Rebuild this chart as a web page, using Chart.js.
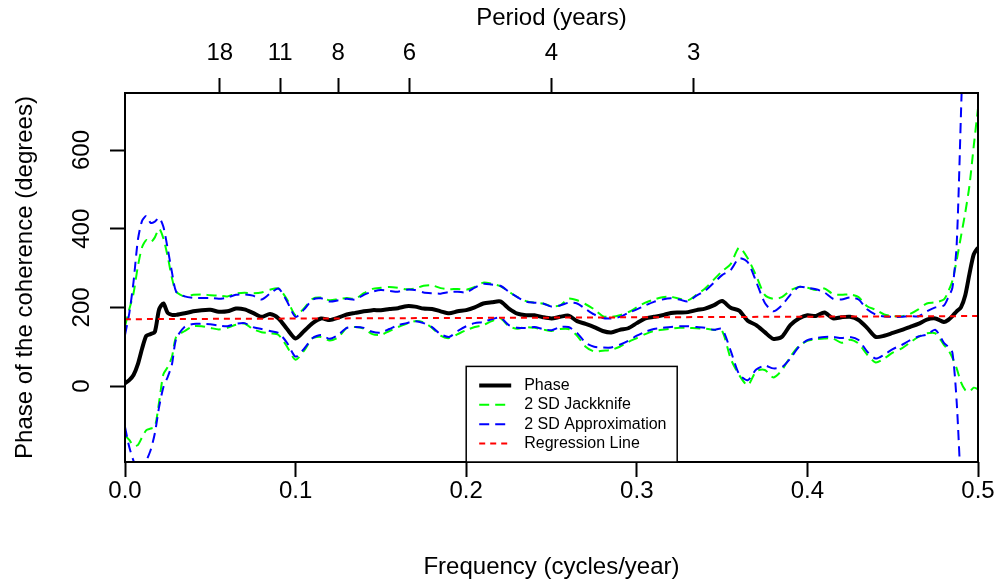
<!doctype html>
<html>
<head>
<meta charset="utf-8">
<title>Phase of the coherence</title>
<script src="https://cdn.jsdelivr.net/npm/chart.js@4.4.1/dist/chart.umd.min.js"></script>
<style>
  html, body { margin: 0; padding: 0; background: #fff; }
</style>
</head>
<body>
<canvas id="phase" width="998" height="583"></canvas>
<script>
// frequency grid (cycles/year), finer at both ends where the curves move fast
const freq = [
  0, 0.0025, 0.005, 0.0075, 0.01, 0.0125, 0.015, 0.0175, 0.02, 0.0225, 0.025, 0.0275, 0.03,
  0.035, 0.04, 0.045, 0.05, 0.055, 0.06, 0.065, 0.07, 0.075, 0.08,
  0.085, 0.09, 0.095, 0.1, 0.105, 0.11, 0.115, 0.12, 0.125, 0.13,
  0.135, 0.14, 0.145, 0.15, 0.155, 0.16, 0.165, 0.17, 0.175, 0.18,
  0.185, 0.19, 0.195, 0.2, 0.205, 0.21, 0.215, 0.22, 0.225, 0.23,
  0.235, 0.24, 0.245, 0.25, 0.255, 0.26, 0.265, 0.27, 0.275, 0.28,
  0.285, 0.29, 0.295, 0.3, 0.305, 0.31, 0.315, 0.32, 0.325, 0.33,
  0.335, 0.34, 0.345, 0.35, 0.355, 0.36, 0.365, 0.37, 0.375, 0.38,
  0.385, 0.39, 0.395, 0.4, 0.405, 0.41, 0.415, 0.42, 0.425, 0.43,
  0.435, 0.44, 0.445, 0.45, 0.455, 0.46, 0.465, 0.47, 0.475,
  0.48, 0.4825, 0.485, 0.4875, 0.49, 0.4925, 0.495, 0.4975, 0.5
];

const phase = [
  7, 15, 28, 55, 95, 128, 132, 138, 195, 210, 186, 181, 181,
  185, 190, 193, 194, 189, 190, 197, 195, 186, 176,
  183, 172, 145, 121, 140, 160, 172, 168, 174, 182,
  186, 190, 193, 193, 196, 198, 203, 202, 197, 196,
  190, 185, 190, 193, 200, 210, 213, 215, 197, 184,
  180, 180, 175, 172, 176, 179, 165, 158, 150, 140,
  136, 143, 147, 160, 172, 176, 180, 186, 187, 188,
  193, 197, 205, 216, 199, 192, 166, 155, 137, 120,
  125, 155, 172, 180, 178, 187, 172, 175, 176, 168,
  148, 125, 128, 135, 142, 150, 158, 169, 172,
  163, 168, 178, 190, 200, 230, 285, 335, 352
];

const jackUpper = [
  152, 195, 236, 303, 353, 371, 365, 378, 400, 375, 330, 275, 240,
  228, 232, 233, 231, 230, 228, 235, 237, 236, 238,
  245, 248, 220, 180, 198, 222, 225, 218, 221, 224,
  222, 236, 247, 250, 252, 250, 246, 248, 255, 256,
  249, 246, 247, 245, 252, 263, 260, 254, 240, 226,
  216, 212, 210, 203, 205, 222, 218, 208, 195, 178,
  176, 180, 188, 200, 212, 220, 226, 227, 222, 218,
  232, 248, 270, 292, 310, 352, 325, 280, 232, 222,
  226, 243, 252, 250, 244, 248, 234, 232, 233, 226,
  203, 194, 182, 178, 177, 183, 195, 210, 213,
  220, 240, 268, 320, 380, 440, 510, 610, 706
];

const jackLower = [
  -125, -137, -152, -150, -130, -112, -108, -104, -40, 30, 48, 74, 125,
  140, 152, 152, 148, 144, 148, 156, 159, 145, 137,
  134, 130, 100, 67, 90, 122, 125, 116, 124, 148,
  150, 146, 132, 130, 140, 150, 158, 165, 162, 148,
  128, 122, 132, 142, 150, 155, 165, 172, 152, 146,
  150, 148, 144, 140, 145, 145, 128, 100, 88, 90,
  92, 100, 112, 122, 132, 140, 143, 146, 148, 148,
  147, 146, 143, 140, 70, 28, 2, 38, 41, 22,
  40, 75, 102, 115, 119, 121, 121, 110, 118, 108,
  80, 60, 70, 85, 95, 110, 125, 134, 134,
  105, 92, 72, 45, 10, -10, -14, -4, -8
];

const approxUpper = [
  130, 185, 265, 370, 420, 432, 415, 418, 428, 405, 350, 290, 240,
  228, 224, 224, 224, 222, 225, 232, 233, 230, 220,
  235, 248, 215, 176, 195, 220, 223, 215, 218, 222,
  220, 232, 240, 244, 242, 240, 245, 244, 238, 236,
  235, 239, 240, 238, 250, 260, 258, 255, 240, 226,
  215, 212, 210, 202, 205, 212, 210, 196, 182, 173,
  172, 176, 186, 195, 205, 214, 220, 223, 220, 215,
  230, 242, 262, 282, 295, 325, 315, 265, 212, 190,
  205, 232, 252, 250, 246, 238, 222, 220, 225, 220,
  195, 182, 177, 176, 176, 178, 177, 190, 200,
  205, 225, 250, 360, 690, 1050, null, null, null
];

const approxLower = [
  -104, -155, -190, -215, -215, -190, -163, -120, -53, -3, 23, 55, 120,
  151, 158, 158, 157, 154, 152, 158, 160, 150, 145,
  140, 135, 110, 75, 95, 122, 130, 120, 130, 148,
  150, 148, 138, 136, 145, 155, 160, 165, 160, 150,
  132, 125, 140, 152, 160, 163, 170, 174, 155, 148,
  148, 150, 145, 142, 150, 150, 135, 110, 100, 98,
  98, 105, 115, 128, 138, 145, 148, 150, 152, 152,
  150, 148, 143, 145, 90, 30, 15, 42, 52, 45,
  48, 70, 100, 117, 122, 125, 125, 122, 125, 117,
  88, 70, 80, 94, 104, 116, 126, 131, 143,
  110, 100, 85, -40, -260, null, null, null, null
];

// regression line end points
const regFreq = [0, 0.5];
const regPhase = [170, 178];

// top axis: periods in years
const periods = [18, 11, 8, 6, 4, 3];

// where the legend box's top-left corner sits, in data units
const legendAt = [0.2, 50];

const FONT = '"Liberation Sans", Arial, Helvetica, sans-serif';
Chart.defaults.font.family = FONT;
Chart.defaults.color = '#000';

const toPoints = (xs, ys) => xs.map((x, i) => ({x: x, y: ys[i]}));

const tickGrid = {
  display: true,
  drawOnChartArea: false,
  drawTicks: true,
  tickLength: 15,
  tickColor: '#000',
  tickWidth: 2,
  color: '#000'
};

const frameAndLegend = {
  id: 'frameAndLegend',
  afterDatasetsDraw(chart) {
    const {ctx, chartArea: a, scales} = chart;
    ctx.save();
    ctx.strokeStyle = '#000';
    ctx.lineWidth = 2;
    ctx.strokeRect(a.left, a.top, a.right - a.left, a.bottom - a.top);

    const lx = scales.x.getPixelForValue(legendAt[0]);
    const ly = scales.y.getPixelForValue(legendAt[1]);
    const w = 211;
    const h = a.bottom - ly;
    ctx.fillStyle = '#fff';
    ctx.fillRect(lx, ly, w, h);
    ctx.lineWidth = 1.5;
    ctx.strokeRect(lx, ly, w, h);

    ctx.font = '16px ' + FONT;
    ctx.textBaseline = 'middle';
    ctx.textAlign = 'left';
    let row = 0;
    chart.data.datasets.forEach(ds => {
      if (!ds.inLegend) return;
      const yy = ly + 19 + row * 19.4;
      ctx.beginPath();
      ctx.setLineDash(ds.borderDash || []);
      ctx.lineWidth = ds.borderWidth;
      ctx.strokeStyle = ds.borderColor;
      ctx.moveTo(lx + 13, yy);
      ctx.lineTo(lx + 45, yy);
      ctx.stroke();
      ctx.setLineDash([]);
      ctx.fillStyle = '#000';
      ctx.fillText(ds.label, lx + 58, yy);
      row += 1;
    });
    ctx.restore();
  }
};

const phaseChart = new Chart(document.getElementById('phase').getContext('2d'), {
  type: 'line',
  data: {
    datasets: [
      {
        label: 'Phase', inLegend: true,
        data: toPoints(freq, phase),
        borderColor: '#000000', borderWidth: 4, order: 4
      },
      {
        label: '2 SD Jackknife', inLegend: true,
        data: toPoints(freq, jackUpper),
        borderColor: '#00ff00', borderWidth: 2, borderDash: [10, 6], order: 3
      },
      {
        label: '2 SD Jackknife lower',
        data: toPoints(freq, jackLower),
        borderColor: '#00ff00', borderWidth: 2, borderDash: [10, 6], order: 3
      },
      {
        label: '2 SD Approximation', inLegend: true,
        data: toPoints(freq, approxUpper),
        borderColor: '#0000ff', borderWidth: 2, borderDash: [10, 6], order: 2
      },
      {
        label: '2 SD Approximation lower',
        data: toPoints(freq, approxLower),
        borderColor: '#0000ff', borderWidth: 2, borderDash: [10, 6], order: 2
      },
      {
        label: 'Regression Line', inLegend: true,
        data: toPoints(regFreq, regPhase),
        borderColor: '#ff0000', borderWidth: 2, borderDash: [6, 5], order: 1
      }
    ]
  },
  options: {
    responsive: false,
    devicePixelRatio: 1,
    animation: false,
    events: [],
    layout: { padding: { left: 0, right: 20, top: 0, bottom: 0 } },
    elements: {
      point: { radius: 0 },
      line: { tension: 0.25, fill: false }
    },
    plugins: {
      legend: { display: false },
      tooltip: { enabled: false }
    },
    scales: {
      x: {
        type: 'linear', position: 'bottom', min: 0, max: 0.5,
        ticks: {
          stepSize: 0.1, autoSkip: false, maxRotation: 0, padding: 0,
          font: { size: 24 }, color: '#000',
          callback: v => v.toFixed(1)
        },
        grid: tickGrid,
        border: { display: false },
        title: {
          display: true, text: 'Frequency (cycles/year)', color: '#000',
          font: { size: 24 }, padding: { top: 0, bottom: 1 }
        },
        afterFit: s => { s.height = 121; }
      },
      period: {
        type: 'linear', position: 'top', min: 0, max: 0.5,
        afterBuildTicks: s => { s.ticks = periods.map(p => ({ value: 1 / p })); },
        ticks: {
          autoSkip: false, maxRotation: 0, padding: 10.6,
          font: { size: 24 }, color: '#000',
          callback: v => String(Math.round(1 / v))
        },
        grid: tickGrid,
        border: { display: false },
        title: {
          display: true, text: 'Period (years)', color: '#000',
          font: { size: 24 }, padding: { top: 3.6, bottom: 0 }
        },
        afterFit: s => { s.height = 93; }
      },
      y: {
        type: 'linear', position: 'left', min: -193, max: 745,
        ticks: {
          stepSize: 200, includeBounds: false,
          minRotation: 90, maxRotation: 90, crossAlign: 'center', padding: 7.5,
          font: { size: 24 }, color: '#000'
        },
        grid: tickGrid,
        border: { display: false },
        title: {
          display: true, text: 'Phase of the coherence (degrees)', color: '#000',
          font: { size: 24 }, padding: { top: 10.6, bottom: 0 }
        },
        afterFit: s => { s.width = 125; }
      }
    }
  },
  plugins: [frameAndLegend]
});
</script>
</body>
</html>
